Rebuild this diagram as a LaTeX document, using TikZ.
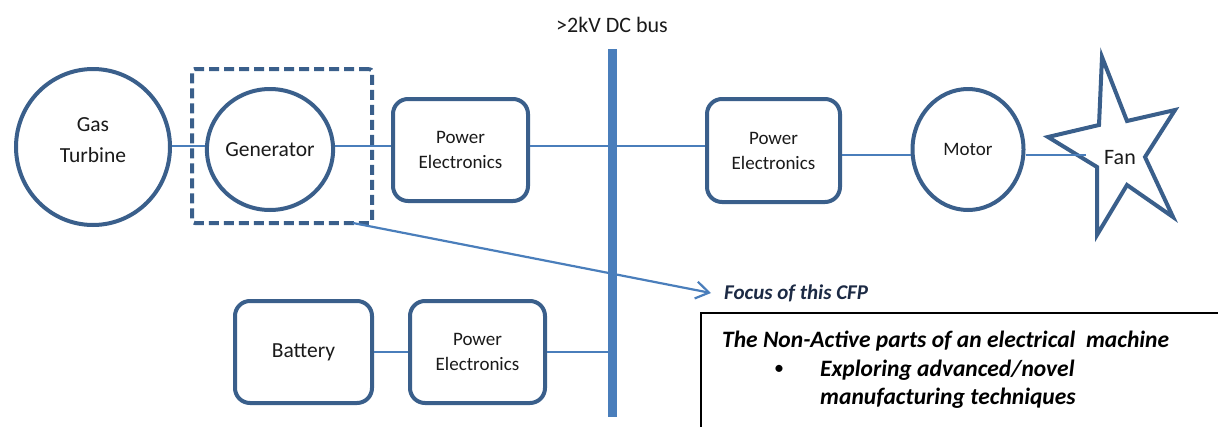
\documentclass[tikz,border=0pt]{standalone}
\usepackage{fontspec}
\setmainfont{Carlito}
\usetikzlibrary{arrows.meta,shapes.geometric}
\definecolor{outl}{HTML}{3A5F8B}
\definecolor{wire}{HTML}{4A7EBB}
\definecolor{busc}{HTML}{4A7EBB}
\definecolor{txt}{HTML}{1A1A1A}
\definecolor{navy}{HTML}{1C2A44}
\tikzset{
  unit/.style={draw=outl, line width=4pt, fill=white, text=txt, align=center},
  machine/.style={unit, ellipse, inner sep=0pt},
  pebox/.style={unit, rectangle, rounded corners=15pt, font=\fontsize{19}{25}\selectfont},
  wireline/.style={draw=wire, line width=2.6pt},
}
\begin{document}
\begin{tikzpicture}[x=1pt,y=-1pt]
\useasboundingbox (0,0) rectangle (1218,426);
% connector rows
\coordinate (row1) at (0,146);
\coordinate (row2) at (0,155);
\coordinate (row3) at (0,352);

% DC bus
\node[fill=busc, minimum width=9pt, minimum height=368pt, inner sep=0pt] (bus) at (612.5,233) {};
\node[font=\fontsize{22}{24}\selectfont, text=txt] (buslbl) at (612,25) {>2kV DC bus};

% generation chain
\node[machine, minimum width=154pt, minimum height=156pt] (gt) at (93,147) {};
\node[font=\fontsize{21.5}{31}\selectfont, text=txt, align=center] (gtlbl) at ([yshift=7pt]gt.center) {Gas\\Turbine};
\node[draw=outl, line width=4pt, dash pattern=on 10pt off 5pt, rounded corners=3pt,
      minimum width=180pt, minimum height=154pt] (focusbox) at (282,146) {};
\node[machine, minimum width=114pt, minimum height=121pt, font=\fontsize{21.5}{24}\selectfont] (gen) at (270,149.5) {Generator};
\node[pebox, minimum width=135pt, minimum height=102pt] (pe1) at (460.5,150) {Power\\Electronics};

\draw[wireline] (gt.east |- row1) -- (gen.west |- row1);
\draw[wireline] (gen.east |- row1) -- (pe1.west |- row1);
\draw[wireline] (pe1.east |- row1) -- (bus.center |- row1);

% propulsion chain
\node[pebox, minimum width=133pt, minimum height=103pt] (pe2) at (773.5,150.5) {Power\\Electronics};
\node[machine, minimum width=111pt, minimum height=121pt, font=\fontsize{19}{22}\selectfont] (motor) at (968,149.5) {Motor};
\draw[wireline] (bus.center |- row1) -- (pe2.west |- row1);
\draw[wireline] (pe2.east |- row2) -- (motor.west |- row2);

% fan
\draw[draw=outl, line width=4pt, fill=white, line join=miter]
  (1102,57) -- (1127,121) -- (1175,110) -- (1145,157) -- (1173,217) -- (1127,185)
  -- (1097,235) -- (1097,167) -- (1048,137) -- (1099,125) -- cycle;
\coordinate (fanin) at (1086,155);
\draw[wireline] (motor.east |- row2) -- (fanin);
\node[font=\fontsize{22}{24}\selectfont, text=txt] (fan) at (1120,158) {Fan};

% storage chain
\node[pebox, minimum width=137pt, minimum height=102pt, font=\fontsize{21.5}{24}\selectfont] (bat) at (303.5,352) {Battery};
\node[pebox, minimum width=135pt, minimum height=102pt] (pe3) at (477.5,352) {Power\\Electronics};
\draw[wireline] (bat.east |- row3) -- (pe3.west |- row3);
\draw[wireline] (pe3.east |- row3) -- (bus.center |- row3);

% focus pointer
\coordinate (arrowstart) at (353,223);
\node[anchor=west, inner sep=0pt, font=\bfseries\itshape\fontsize{21}{24}\selectfont, text=navy] (focuslbl) at (724,293) {Focus of this CFP};
\draw[draw=wire, line width=2.2pt, -{Straight Barb[length=13pt, width=17pt, line width=2.2pt]}]
  (arrowstart) -- ([xshift=-13pt]focuslbl.west);

% scope note
\begin{scope}
\clip (0,0) rectangle (1218,426);
\draw[black, line width=1.6pt] (701,440) -- (701,313) -- (1230,313);
\end{scope}
\node[anchor=west, inner sep=0pt, font=\bfseries\itshape\fontsize{23.5}{26}\selectfont, text=black] (note) at (722,341) {The Non-Active parts of an electrical\ \ machine};
\node[inner sep=0pt, font=\fontsize{20}{22}\selectfont] (dot) at (779,370) {\textbullet};
\node[anchor=west, inner sep=0pt, font=\bfseries\itshape\fontsize{23.5}{26}\selectfont, text=black] (item1) at (820,370) {Exploring advanced/novel};
\node[anchor=west, inner sep=0pt, font=\bfseries\itshape\fontsize{23.5}{26}\selectfont, text=black] (item2) at (820,398) {manufacturing techniques};
\end{tikzpicture}
\end{document}
